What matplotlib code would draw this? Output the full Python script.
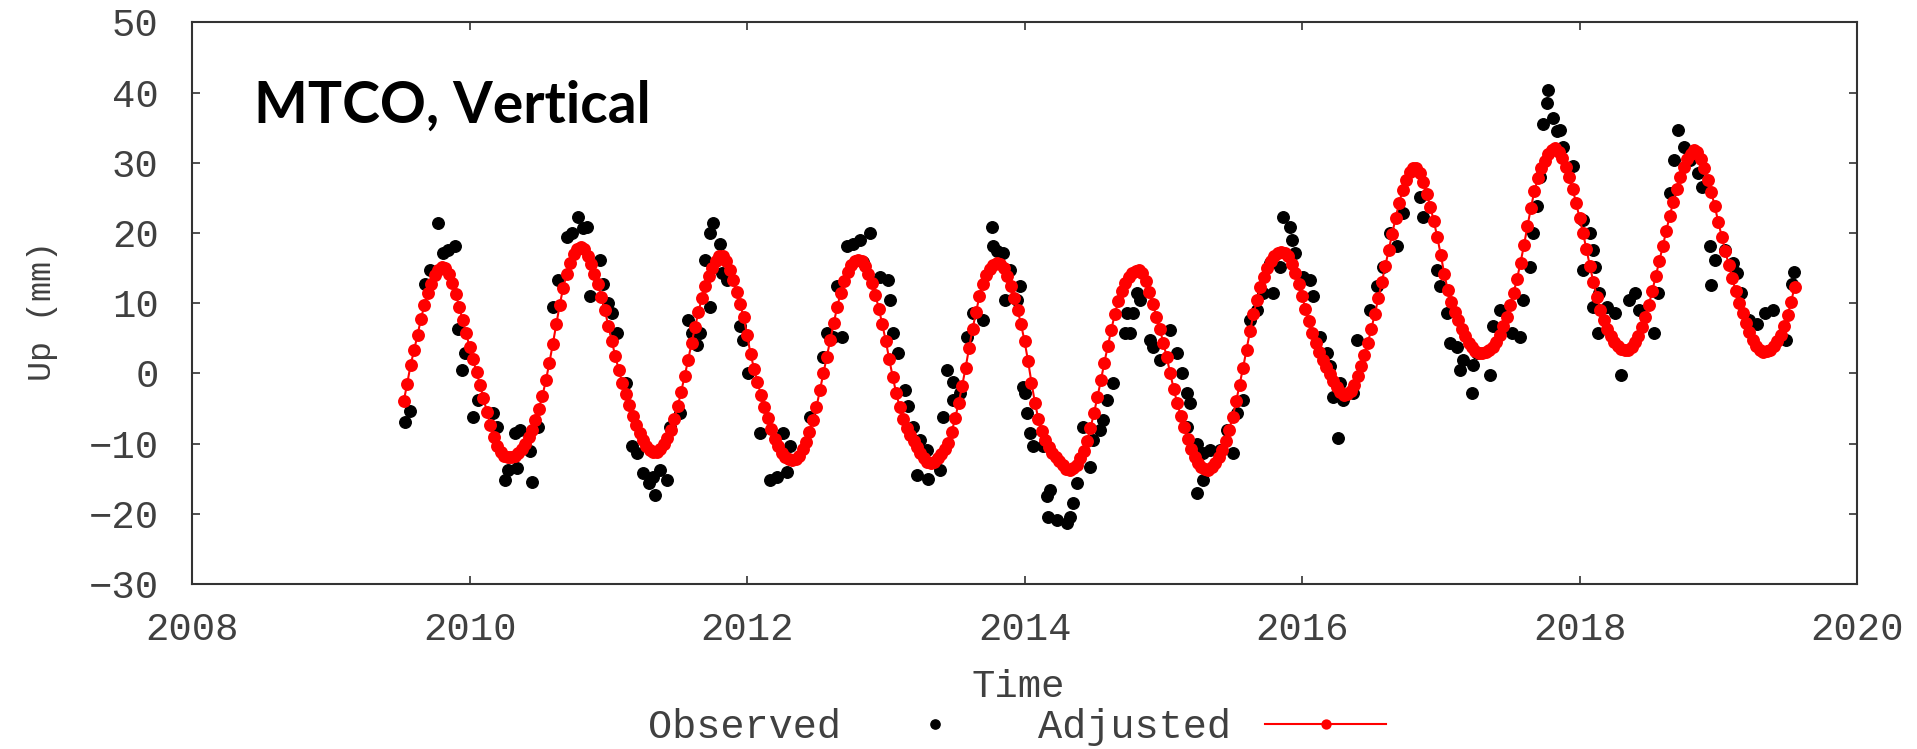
import matplotlib
matplotlib.use('Agg')
import matplotlib.pyplot as plt

# Adjusted (fitted) vertical position, mm, one value every 0.025 yr
adj_2009 = [-4.0, -1.5, 1.2, 3.3, 5.5, 7.8, 9.8, 11.5, 12.8, 14.0,
            14.8, 15.2, 15.0, 14.2, 12.9, 11.3, 9.5, 7.6, 5.7]
adj_2010 = [3.8, 2.0, 0.2, -1.6, -3.5, -5.5, -7.4, -9.0, -10.3, -11.2,
            -11.7, -11.9, -11.9, -11.7, -11.3, -10.7, -10.0, -9.0, -8.0, -6.6,
            -5.0, -3.2, -1.0, 1.5, 4.2, 7.0, 9.8, 12.2, 14.2, 15.8,
            17.0, 17.7, 18.0, 17.7, 16.8, 15.6, 14.2, 12.7, 10.9, 9.0]
adj_2011 = [6.8, 4.6, 2.5, 0.5, -1.3, -3.0, -4.5, -6.0, -7.3, -8.5,
            -9.5, -10.3, -10.9, -11.2, -11.2, -10.8, -10.1, -9.2, -8.0, -6.5,
            -4.7, -2.6, -0.4, 1.9, 4.3, 6.6, 8.8, 10.8, 12.5, 13.9,
            15.0, 16.0, 16.7, 16.8, 16.0, 14.8, 13.3, 11.6, 9.9, 8.0]
adj_2012 = [5.5, 2.8, 0.7, -1.2, -3.1, -4.8, -6.4, -7.9, -9.3, -10.4,
            -11.3, -11.9, -12.2, -12.3, -12.2, -11.7, -10.8, -9.7, -8.3, -6.6,
            -4.8, -2.4, 0.0, 2.4, 4.8, 7.2, 9.5, 11.5, 13.2, 14.5,
            15.4, 16.0, 16.2, 16.0, 15.3, 14.2, 12.9, 11.2, 9.2, 7.0]
adj_2013 = [4.6, 2.0, -0.5, -2.8, -4.8, -6.5, -7.8, -8.8, -9.6, -10.5,
            -11.3, -12.0, -12.6, -12.8, -12.6, -12.1, -11.5, -10.8, -9.9, -8.3,
            -6.4, -4.2, -1.8, 0.8, 3.6, 6.3, 8.7, 11.0, 12.8, 14.0,
            14.9, 15.4, 15.7, 15.6, 15.0, 13.9, 12.4, 10.8, 9.0, 7.0]
adj_2014 = [4.6, 1.8, -1.3, -4.2, -6.5, -8.2, -9.5, -10.5, -11.3, -11.9,
            -12.5, -13.1, -13.6, -13.7, -13.5, -13.0, -12.1, -11.0, -9.6, -7.8,
            -5.7, -3.4, -1.0, 1.5, 3.9, 6.2, 8.4, 10.3, 11.8, 12.9,
            13.8, 14.3, 14.6, 14.7, 14.3, 13.2, 11.6, 9.9, 8.1, 6.3]
adj_2015 = [4.4, 2.3, 0.0, -2.2, -4.2, -6.0, -7.7, -9.3, -10.8, -11.9,
            -12.8, -13.3, -13.6, -13.7, -13.4, -12.8, -11.9, -10.9, -9.6, -8.0,
            -6.2, -4.0, -1.6, 0.8, 3.4, 6.0, 8.4, 10.5, 12.3, 13.8,
            15.0, 16.0, 16.7, 17.1, 17.3, 17.1, 16.7, 15.6, 14.3, 12.8]
adj_2016 = [11.0, 9.2, 7.4, 5.8, 4.3, 3.0, 1.9, 0.9, -0.1, -1.1,
            -2.0, -2.7, -3.1, -3.0, -2.5, -1.6, -0.4, 1.0, 2.6, 4.4,
            6.4, 8.5, 10.7, 13.0, 15.3, 17.6, 19.9, 22.2, 24.3, 26.1,
            27.6, 28.7, 29.3, 29.3, 28.6, 27.3, 25.6, 23.7, 21.7, 19.4]
adj_2017 = [16.9, 14.2, 11.9, 10.2, 8.8, 7.6, 6.4, 5.3, 4.4, 3.7,
            3.2, 2.9, 2.9, 3.0, 3.3, 3.8, 4.5, 5.5, 6.7, 8.1,
            9.7, 11.5, 13.5, 15.8, 18.3, 21.0, 23.6, 26.0, 27.8, 29.2,
            30.3, 31.2, 31.8, 32.1, 31.6, 30.7, 29.4, 28.0, 26.3, 24.3]
adj_2018 = [22.2, 20.0, 17.7, 15.3, 13.0, 10.9, 9.1, 7.6, 6.3, 5.3,
            4.5, 3.9, 3.5, 3.3, 3.4, 3.8, 4.5, 5.4, 6.6, 8.1,
            9.8, 11.8, 13.9, 16.0, 18.1, 20.3, 22.4, 24.4, 26.3, 28.0,
            29.4, 30.5, 31.3, 31.8, 31.6, 30.6, 29.2, 27.6, 25.8, 23.8]
adj_2019 = [21.6, 19.5, 17.5, 15.5, 13.6, 11.8, 10.1, 8.6, 7.2, 5.9,
            4.8, 3.9, 3.3, 3.1, 3.2, 3.4, 3.9, 4.6, 5.5, 6.7,
            8.3, 10.2, 12.3]

# Observed solutions that stand out from the fit
obs_t = [2009.535, 2009.571, 2009.679, 2009.715, 2009.775, 2009.811, 2009.847, 2009.895,
         2009.920, 2009.944, 2009.968, 2010.027, 2010.064, 2010.172, 2010.196, 2010.256,
         2010.280, 2010.328, 2010.340, 2010.364, 2010.436, 2010.448, 2010.496, 2010.604,
         2010.640, 2010.700, 2010.737, 2010.785, 2010.820, 2010.845, 2010.869, 2010.940,
         2010.965, 2011.000, 2011.025, 2011.060, 2011.130, 2011.169, 2011.205, 2011.250,
         2011.290, 2011.325, 2011.337, 2011.373, 2011.420, 2011.445, 2011.517, 2011.577,
         2011.600, 2011.637, 2011.661, 2011.697, 2011.733, 2011.733, 2011.757, 2011.805,
         2011.817, 2011.853, 2011.950, 2011.973, 2012.010, 2012.093, 2012.166, 2012.214,
         2012.262, 2012.286, 2012.310, 2012.454, 2012.550, 2012.574, 2012.622, 2012.646,
         2012.682, 2012.718, 2012.766, 2012.815, 2012.838, 2012.886, 2012.958, 2013.018,
         2013.030, 2013.055, 2013.090, 2013.140, 2013.163, 2013.199, 2013.223, 2013.247,
         2013.295, 2013.307, 2013.391, 2013.415, 2013.440, 2013.487, 2013.487, 2013.535,
         2013.583, 2013.630, 2013.700, 2013.763, 2013.775, 2013.800, 2013.847, 2013.859,
         2013.895, 2013.943, 2013.967, 2013.991, 2014.003, 2014.015, 2014.040, 2014.063,
         2014.135, 2014.160, 2014.171, 2014.183, 2014.231, 2014.303, 2014.328, 2014.352,
         2014.376, 2014.424, 2014.472, 2014.496, 2014.544, 2014.568, 2014.592, 2014.640,
         2014.724, 2014.736, 2014.760, 2014.784, 2014.808, 2014.832, 2014.904, 2014.928,
         2014.976, 2015.048, 2015.096, 2015.133, 2015.169, 2015.169, 2015.193, 2015.241,
         2015.241, 2015.289, 2015.289, 2015.337, 2015.409, 2015.457, 2015.505, 2015.529,
         2015.577, 2015.625, 2015.673, 2015.721, 2015.769, 2015.793, 2015.841, 2015.865,
         2015.913, 2015.925, 2015.949, 2016.009, 2016.057, 2016.081, 2016.129, 2016.177,
         2016.201, 2016.225, 2016.261, 2016.273, 2016.297, 2016.369, 2016.393, 2016.490,
         2016.538, 2016.586, 2016.634, 2016.682, 2016.730, 2016.850, 2016.874, 2016.970,
         2016.994, 2017.042, 2017.066, 2017.114, 2017.138, 2017.162, 2017.222, 2017.230,
         2017.258, 2017.357, 2017.380, 2017.428, 2017.511, 2017.571, 2017.595, 2017.643,
         2017.667, 2017.690, 2017.715, 2017.739, 2017.763, 2017.775, 2017.811, 2017.835,
         2017.859, 2017.883, 2017.955, 2018.027, 2018.027, 2018.075, 2018.099, 2018.099,
         2018.114, 2018.135, 2018.143, 2018.200, 2018.256, 2018.299, 2018.355, 2018.398,
         2018.426, 2018.540, 2018.568, 2018.653, 2018.682, 2018.710, 2018.753, 2018.795,
         2018.852, 2018.880, 2018.937, 2018.951, 2018.980, 2019.051, 2019.107, 2019.135,
         2019.164, 2019.221, 2019.278, 2019.335, 2019.391, 2019.491, 2019.533, 2019.547]
obs_up = [-6.9, -5.4, 12.8, 14.7, 21.4, 17.1, 17.6, 18.1,
          6.4, 0.5, 2.9, -6.2, -3.8, -5.7, -7.6, -15.2,
          -13.7, -8.5, -13.5, -8.0, -11.1, -15.4, -7.6, 9.5,
          13.3, 19.5, 20.0, 22.3, 20.7, 20.9, 11.0, 16.2,
          12.8, 10.0, 8.6, 5.7, -1.4, -10.4, -11.4, -14.2,
          -15.6, -14.7, -17.3, -13.7, -15.2, -7.6, -5.7, 7.6,
          5.7, 4.0, 5.7, 16.2, 9.5, 20.0, 21.4, 18.5,
          14.3, 13.3, 6.7, 4.8, 0.0, -8.5, -15.2, -14.7,
          -8.5, -14.0, -10.4, -6.2, 2.4, 5.7, 5.2, 12.4,
          5.2, 18.1, 18.5, 19.0, 15.9, 20.0, 13.8, 13.3,
          10.5, 5.7, 2.9, -2.4, -4.7, -7.6, -14.5, -9.5,
          -10.9, -15.0, -13.7, -6.2, 0.5, -1.2, -3.8, -2.8,
          5.2, 8.6, 7.6, 20.9, 18.1, 17.5, 17.1, 10.5,
          14.7, 10.5, 12.4, -1.9, -2.8, -5.7, -8.5, -10.4,
          -10.4, -17.5, -20.4, -16.6, -20.9, -21.3, -20.4, -18.5,
          -15.6, -7.6, -13.3, -9.5, -8.0, -6.6, -3.8, -1.4,
          5.7, 8.6, 5.7, 8.6, 11.4, 10.5, 4.8, 3.8,
          1.9, 6.2, 2.9, 0.0, -2.8, -7.6, -4.2, -10.0,
          -17.1, -11.4, -15.2, -10.9, -10.9, -8.0, -11.4, -5.7,
          -3.8, 7.6, 9.0, 11.4, 15.7, 11.4, 15.2, 22.3,
          20.9, 19.0, 17.1, 13.8, 13.3, 11.0, 5.2, 2.9,
          1.0, -3.3, -9.2, -1.4, -3.8, -2.8, 4.8, 9.0,
          12.4, 15.2, 20.0, 18.1, 22.8, 25.2, 22.3, 14.7,
          12.4, 8.6, 4.3, 3.8, 0.5, 1.9, -2.8, 1.2,
          2.9, -0.2, 6.7, 9.0, 5.7, 5.2, 10.5, 15.2,
          20.0, 23.8, 28.0, 35.6, 38.5, 40.4, 36.4, 34.5,
          34.7, 32.3, 29.5, 21.9, 14.7, 20.0, 17.6, 9.5,
          15.2, 5.7, 11.4, 9.5, 8.6, -0.2, 10.5, 11.4,
          9.0, 5.7, 11.4, 25.7, 30.4, 34.7, 32.3, 30.4,
          28.5, 26.6, 18.1, 12.6, 16.2, 17.6, 15.7, 14.3,
          11.4, 7.6, 7.1, 8.6, 9.0, 4.8, 12.8, 14.5]

x_ticks = [2008, 2010, 2012, 2014, 2016, 2018, 2020]
y_ticks = [-30, -20, -10, 0, 10, 20, 30, 40, 50]

# (first year, offset of first value inside that year, values)
adj_blocks = [(2009, 0.525, adj_2009), (2010, 0.0, adj_2010), (2011, 0.0, adj_2011),
              (2012, 0.0, adj_2012), (2013, 0.0, adj_2013), (2014, 0.0, adj_2014),
              (2015, 0.0, adj_2015), (2016, 0.0, adj_2016), (2017, 0.0, adj_2017),
              (2018, 0.0, adj_2018), (2019, 0.0, adj_2019)]
t_adj, up_adj = [], []
for year, off, vals in adj_blocks:
    t_adj += [year + off + 0.025 * i for i in range(len(vals))]
    up_adj += vals

plt.rcParams['font.family'] = ['Liberation Mono', 'DejaVu Sans']

fig = plt.figure(figsize=(19.17, 7.49), dpi=100)
ax = fig.add_axes([0.1002, 0.2203, 0.8685, 0.7497])

obs_line, = ax.plot(obs_t, obs_up, linestyle='none', marker='o', markersize=8.3,
                    color='black', label='Observed', zorder=2)
adj_line, = ax.plot(t_adj, up_adj, color='#ff0000', linewidth=1.5, marker='o',
                    markersize=9.3, markeredgewidth=0, label='Adjusted', zorder=3)

ax.set_xlim(2008, 2020)
ax.set_ylim(-30, 50)
ax.set_xticks(x_ticks)
ax.set_yticks(y_ticks)
ax.set_xticklabels([str(v) for v in x_ticks])
ax.set_yticklabels([str(v).replace('-', '\u2212') for v in y_ticks])

for s in ax.spines.values():
    s.set_color('#333333')
    s.set_linewidth(1.5)
ax.tick_params(direction='in', length=6, width=1.2, color='#333333',
               top=True, right=True, labelsize=28, labelcolor='#404040')
ax.tick_params(axis='y', pad=24)
ax.tick_params(axis='x', pad=20)

fig.text(43 / 1917, 1 - 311 / 749, 'Up (mm)', rotation=90, ha='center', va='center',
         fontsize=24, color='#404040')
fig.text(1018 / 1917, 1 - 687 / 749, 'Time', ha='center', va='center',
         fontsize=28, color='#404040')
fig.text(254 / 1917, 1 - 123 / 749, 'MTCO, Vertical', ha='left', va='baseline',
         fontsize=41, fontweight='bold', family=['Lato', 'DejaVu Sans'], color='black')

leg = fig.legend(handles=[obs_line, adj_line], loc='center',
                 bbox_to_anchor=(1017 / 1917, 1 - 727 / 749), ncol=2, frameon=False,
                 markerfirst=False, numpoints=1, handlelength=3.0, handletextpad=0.85,
                 columnspacing=1.05, borderpad=0, markerscale=0.8, prop={'size': 29})
for txt in leg.get_texts():
    txt.set_color('#404040')

fig.savefig('out.png', dpi=100)
